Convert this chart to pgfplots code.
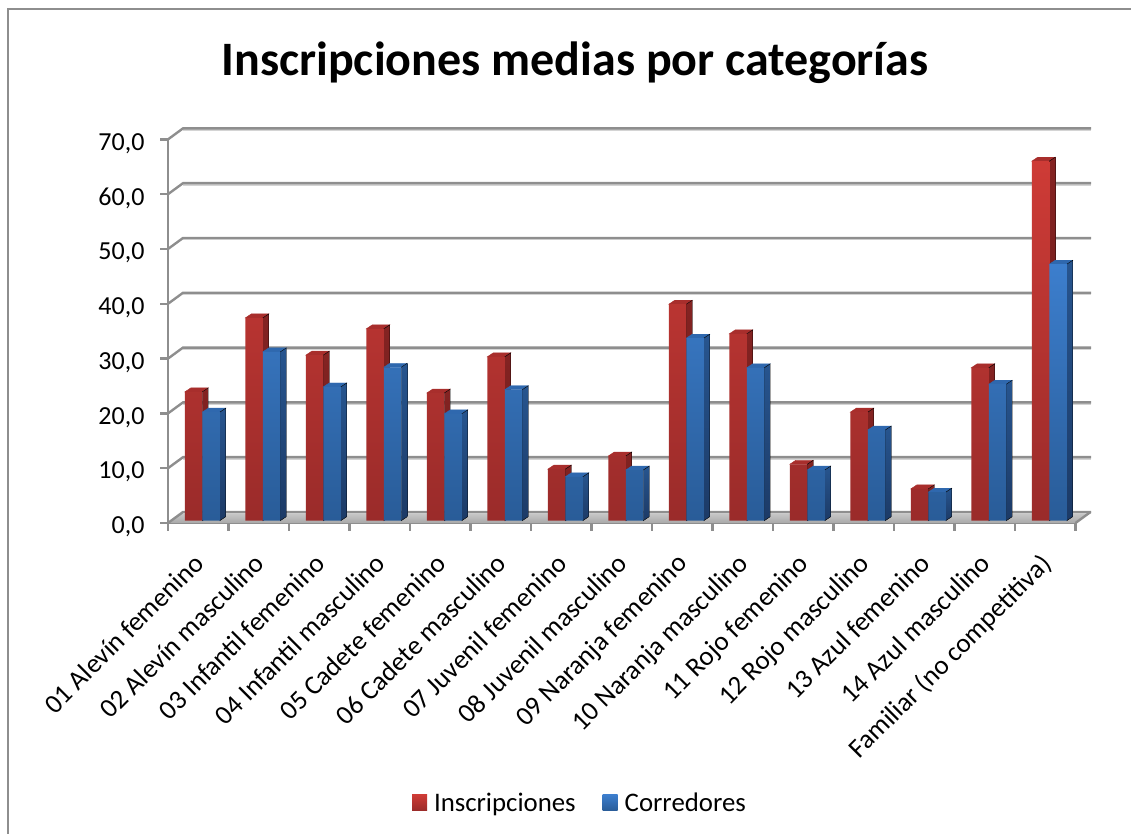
\documentclass[border=0pt]{standalone}
\usepackage{fontspec}
\setmainfont{Carlito}
\usepackage{pgfplots}
\usepackage{pgfplotstable}
\pgfplotsset{compat=1.18}

\definecolor{redT}{HTML}{CE3B36}
\definecolor{redB}{HTML}{9A2B2A}
\definecolor{redS}{HTML}{842322}
\definecolor{redC}{HTML}{A82E2C}
\definecolor{bluT}{HTML}{3C7ECD}
\definecolor{bluB}{HTML}{295C98}
\definecolor{bluS}{HTML}{27558F}
\definecolor{bluD}{HTML}{1C3A66}
\definecolor{bluC}{HTML}{2F68AE}
\definecolor{axisgray}{HTML}{8E8E8E}
\definecolor{shadowgray}{HTML}{D4D4D4}

\pgfplotstableread{
x    ins   cor
0.5  23.5  19.8
1.5  37.0  30.8
2.5  30.2  24.4
3.5  35.0  28.0
4.5  23.3  19.5
5.5  29.9  23.9
6.5  9.4   8.0
7.5  11.8  9.25
8.5  39.5  33.3
9.5  34.1  27.9
10.5 10.3  9.25
11.5 19.8  16.55
12.5 5.8   5.2
13.5 27.9  24.9
14.5 65.6  46.8
}\datatable

% top and side faces of a 3d bar, drawn at each data point
\pgfplotsset{
  barcap/.style n args={5}{
    scatter, only marks, scatter src=y, mark size=0pt, forget plot,
    visualization depends on={y\as\barval},
    scatter/@pre marker code/.code={
      \pgfmathsetlengthmacro{\barh}{\barval*5.48pt}
      \fill[#3] (#1,0pt) -- (#2,0pt) -- ++(6pt,4pt) -- ++(-17.5pt,0pt) -- cycle;
      \shade[top color=#4,bottom color=#5] (#2,0pt) -- ++(6pt,4pt) -- ++(0pt,-\barh) -- (#2,-\barh) -- cycle;
      \begingroup
    },
    scatter/@post marker code/.code={\endgroup},
  },
}

\begin{document}
\begin{tikzpicture}[x=1pt,y=1pt]
\path[use as bounding box] (0,0) rectangle (1131,834);
\draw[axisgray,line width=2.4pt] (8,0) -- (8,825) -- (1131,825);

\node[font=\fontsize{48}{54}\selectfont\bfseries] at (575,771) {Inscripciones medias por categorías};

% floor, back wall lines, front axes
\begin{axis}[
  at={(168pt,311pt)}, anchor=origin,
  x=60.5pt, y=5.48pt,
  xmin=0, xmax=15, ymin=0, ymax=70,
  clip=false,
  axis x line*=bottom, axis y line*=left,
  axis line style={axisgray,line width=2.4pt,-},
  every tick/.style={axisgray,line width=2.4pt},
  ytick={0,10,...,70},
  xtick={0.5,1.5,...,14.5},
  minor xtick={0,1,...,15},
  major x tick style={draw=none},
  minor tick length=8pt,
  major tick length=8pt,
  tick align=outside,
  xticklabels={01 Alevín femenino,02 Alevín masculino,03 Infantil femenino,04 Infantil masculino,05 Cadete femenino,06 Cadete masculino,07 Juvenil femenino,08 Juvenil masculino,09 Naranja femenino,10 Naranja masculino,11 Rojo femenino,12 Rojo masculino,13 Azul femenino,14 Azul masculino,Familiar (no competitiva)},
  x tick label style={rotate=45,anchor=north east,font=\fontsize{27}{30}\selectfont,inner sep=0pt,xshift=-19pt,yshift=-10pt},
  y tick label style={font=\fontsize{26}{30}\selectfont,xshift=-12pt,yshift=-4pt},
  /pgf/number format/.cd,fixed,fixed zerofill,precision=1,use comma,assume math mode=true,
]
\fill[top color=black!20,bottom color=black!34] (axis cs:0,0) -- ++(15pt,11pt) -- ++(908pt,0pt) -- (axis cs:15,0) -- cycle;
\pgfplotsinvokeforeach{0,10,...,70}{
  \draw[shadowgray,line width=2pt] (axis cs:0,#1) ++(15pt,9.6pt) -- ++(908pt,0pt);
  \draw[axisgray,line width=2.4pt] (axis cs:0,#1) -- ++(15pt,11pt) -- ++(908pt,0pt);
}
\draw[axisgray,line width=2.4pt] (axis cs:15,0) -- ++(15pt,11pt);
\end{axis}

% bars
\begin{axis}[
  at={(172pt,313.3pt)}, anchor=origin,
  x=60.5pt, y=5.48pt,
  xmin=0, xmax=15, ymin=0, ymax=70,
  clip=false, clip mode=individual, hide axis,
  legend columns=2,
  legend style={at={(0.4495,-0.735)},anchor=center,draw=none,fill=none,
    font=\fontsize{26.8}{30}\selectfont,
    /tikz/every even column/.style={column sep=25pt}},
]
\addplot[barcap={-17.5pt}{0pt}{redC}{redS}{redS!80!black}] table[x=x,y=ins] {\datatable};
\addplot[ybar,bar width=17.5pt,bar shift=-8.75pt,draw=none,top color=redT,bottom color=redB,
  legend image code/.code={\shade[top color=redT,bottom color=redB] (0pt,-8pt) rectangle (15pt,8pt); \path (20pt,0pt);}]
  table[x=x,y=ins] {\datatable};
\addlegendentry{Inscripciones}
\addplot[barcap={0pt}{17.5pt}{bluC}{bluS}{bluD}] table[x=x,y=cor] {\datatable};
\addplot[ybar,bar width=17.5pt,bar shift=8.75pt,draw=none,top color=bluT,bottom color=bluB,
  legend image code/.code={\shade[top color=bluT,bottom color=bluB] (0pt,-8pt) rectangle (15pt,8pt); \path (20pt,0pt);}]
  table[x=x,y=cor] {\datatable};
\addlegendentry{Corredores}
\end{axis}
\end{tikzpicture}
\end{document}
